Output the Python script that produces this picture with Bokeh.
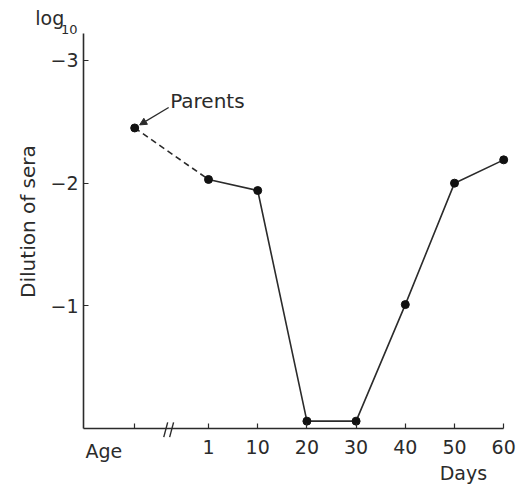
from bokeh.plotting import figure
from bokeh.models import Range1d, FixedTicker, Label, Arrow, NormalHead
from bokeh.embed import file_html
from bokeh.resources import INLINE
from math import pi

# ---- data ----
day_labels = ["1", "10", "20", "30", "40", "50", "60"]
day_pos = [0, 1, 2, 3, 4, 5, 6]          # evenly spaced categories
sera_log = [-2.03, -1.94, -0.06, -0.06, -1.01, -2.00, -2.19]
parent_pos = -1.5
parent_log = -2.45
y_ticks = [-3, -2, -1]
y_tick_labels = {-3: "\u22123", -2: "\u22122", -1: "\u22121"}
break_pos = -0.83
x_axis_bounds = (-2.54, 6.0)
y_axis_bounds = (-3.22, 0.0)

INK = "#2b2b2b"
FONT = "DejaVu Sans"
FS = "19px"

p = figure(width=531, height=487, output_backend="svg", toolbar_location=None,
           x_range=Range1d(-4.228, 6.565), y_range=Range1d(0.481, -3.489),
           min_border=0, min_border_left=0, min_border_right=0,
           min_border_top=0, min_border_bottom=0,
           background_fill_color="white", border_fill_color="white",
           outline_line_color=None)
p.xgrid.visible = False
p.ygrid.visible = False

# axes placed at fixed data locations inside the frame
p.xaxis.fixed_location = 0
p.xaxis.bounds = x_axis_bounds
p.yaxis.fixed_location = x_axis_bounds[0]
p.yaxis.bounds = y_axis_bounds
p.xaxis.ticker = FixedTicker(ticks=[parent_pos] + day_pos)
p.xaxis.major_label_overrides = {parent_pos: ""} | {d: l for d, l in zip(day_pos, day_labels)}
p.yaxis.ticker = FixedTicker(ticks=y_ticks)
p.yaxis.major_label_overrides = y_tick_labels
for ax in (p.xaxis[0], p.yaxis[0]):
    ax.axis_line_color = INK
    ax.axis_line_width = 1.6
    ax.major_tick_line_color = INK
    ax.major_tick_line_width = 1.2
    ax.major_tick_in = 5
    ax.major_tick_out = 0
    ax.minor_tick_line_color = None
    ax.major_label_text_font = FONT
    ax.major_label_text_font_size = FS
    ax.major_label_text_color = INK
p.xaxis.major_label_standoff = 12
p.yaxis.major_label_standoff = 5

# dashed link parents -> day 1
p.line([parent_pos, day_pos[0]], [parent_log, sera_log[0]], line_color=INK,
       line_width=1.6, line_dash="6 4")
# solid series
p.line(day_pos, sera_log, line_color=INK, line_width=1.6)
p.scatter([parent_pos] + day_pos, [parent_log] + sera_log, size=8,
          fill_color="#111111", line_color="#111111")

# axis break marks
p.segment(x0=[break_pos - 0.08, break_pos + 0.04], y0=[0.07, 0.07],
          x1=[break_pos - 0.0, break_pos + 0.12], y1=[-0.05, -0.05],
          line_color=INK, line_width=1.4)

# Parents annotation
p.add_layout(Arrow(end=NormalHead(size=7, fill_color=INK, line_color=INK),
                   x_start=-0.81, y_start=-2.617, x_end=-1.40, y_end=-2.475,
                   line_color=INK, line_width=1.3))
p.add_layout(Label(x=-0.78, y=-2.666, text="Parents", text_font=FONT,
                   text_font_size="20px", text_color=INK, text_baseline="middle"))

# other texts
p.add_layout(Label(x=-2.50, y=0.09, text="Age", text_font=FONT,
                   text_font_size=FS, text_color=INK, text_baseline="top"))
p.add_layout(Label(x=5.18, y=0.275, text="Days", text_font=FONT,
                   text_font_size=FS, text_color=INK, text_baseline="top",
                   text_align="center"))
p.add_layout(Label(x=-3.66, y=-1.687, text="Dilution of sera", text_font=FONT,
                   text_font_size="20px", text_color=INK, angle=pi / 2,
                   text_align="center", text_baseline="middle"))
p.add_layout(Label(x=-3.52, y=-3.345, text="log", text_font=FONT,
                   text_font_size=FS, text_color=INK, text_baseline="alphabetic"))
p.add_layout(Label(x=-3.00, y=-3.25, text="10", text_font=FONT,
                   text_font_size="13px", text_color=INK, text_baseline="alphabetic"))

open("out.html", "w").write(file_html(p, INLINE))
